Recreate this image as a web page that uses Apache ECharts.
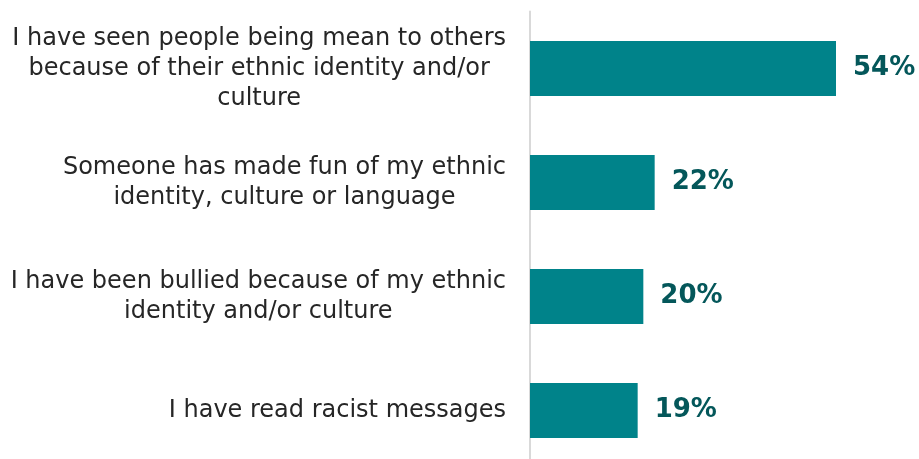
<!DOCTYPE html>
<html><head><meta charset="utf-8">
<script src="https://cdn.jsdelivr.net/npm/echarts@6/dist/echarts.min.js"></script>
<style>html,body{margin:0;padding:0;background:#fff}#c{width:919px;height:459px}</style>
</head><body><div id="c"></div>
<script>
const categories = [
  "I have seen people being mean to others\nbecause of their ethnic identity and/or\nculture",
  "Someone has made fun of my ethnic\nidentity, culture or language",
  "I have been bullied because of my ethnic\nidentity and/or culture",
  "I have read racist messages"
];
const values = [54, 22, 20, 19];

const chart = echarts.init(document.getElementById('c'));
chart.setOption({
  animation: false,
  grid: { left: 530, width: 340, top: 11.5, height: 456, containLabel: false, outerBoundsMode: 'none' },
  xAxis: { type: 'value', min: 0, max: 60, show: false },
  yAxis: {
    type: 'category', inverse: true, data: categories,
    axisLine: { show: true, lineStyle: { color: '#d9d9d9', width: 2 } },
    axisTick: { show: false },
    axisLabel: {
      margin: 24, align: 'right',
      formatter: v => v.split('\n').map(l => '{c|' + l + '}').join('\n'),
      rich: { c: { align: 'center', fontFamily: 'DejaVu Sans', fontSize: 24, lineHeight: 30, color: '#262626' } }
    }
  },
  series: [{
    type: 'bar', data: values, barWidth: 55,
    itemStyle: { color: '#00838a' },
    label: { show: true, position: 'right', distance: 17, formatter: '{c}%',
      fontFamily: 'DejaVu Sans', fontWeight: 'bold', fontSize: 26, color: '#04575a' }
  }]
});
</script></body></html>
